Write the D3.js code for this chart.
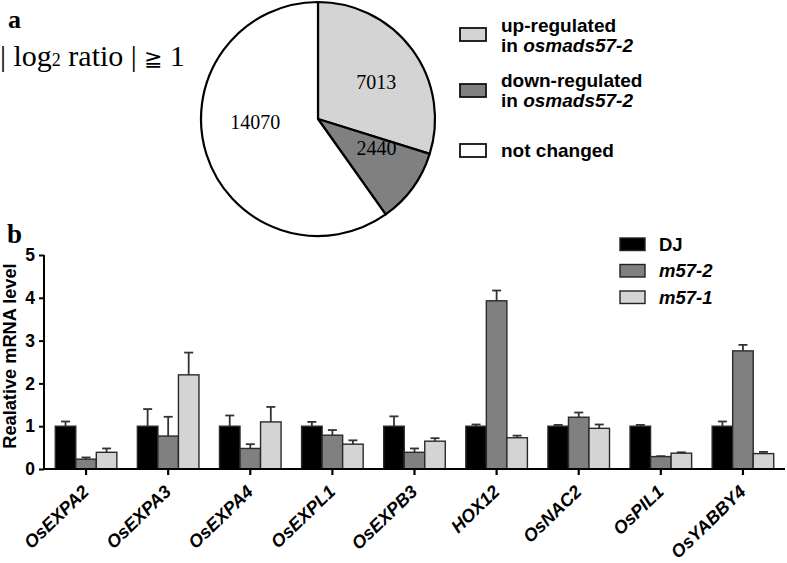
<!DOCTYPE html>
<html><head><meta charset="utf-8">
<script src="https://cdn.jsdelivr.net/npm/d3@7"></script>
<style>body{margin:0;background:#fff}svg{display:block}</style>
</head><body>
<script>
// ---- data ----
const pieLabels = ["up-regulated", "down-regulated", "not changed"];
const pieValues = [7013, 2440, 14070];
const genes = ["OsEXPA2","OsEXPA3","OsEXPA4","OsEXPL1","OsEXPB3","HOX12","OsNAC2","OsPIL1","OsYABBY4"];
const seriesNames = ["DJ","m57-2","m57-1"];
const valDJ   = [1.00, 1.00, 1.00, 1.00, 1.00, 1.00, 1.00, 1.00, 1.00];
const errDJ   = [0.11, 0.40, 0.25, 0.10, 0.23, 0.04, 0.03, 0.03, 0.11];
const valM572 = [0.23, 0.77, 0.48, 0.79, 0.39, 3.93, 1.21, 0.29, 2.76];
const errM572 = [0.04, 0.45, 0.10, 0.12, 0.09, 0.24, 0.11, 0.01, 0.14];
const valM571 = [0.39, 2.20, 1.10, 0.58, 0.65, 0.73, 0.95, 0.37, 0.36];
const errM571 = [0.09, 0.52, 0.35, 0.09, 0.07, 0.05, 0.09, 0.02, 0.04];
const yTicks = [0,1,2,3,4,5];

const W = 787, H = 563;
const svg = d3.select("body").append("svg").attr("width", W).attr("height", H);
const sans = "'Liberation Sans', Arial, Helvetica, sans-serif";
const serif = "'Liberation Serif', 'Times New Roman', serif";
const fills = ["#000000", "#808080", "#d4d4d4"];
const pieFills = ["#d4d4d4", "#808080", "#ffffff"];

// ---- panel a ----
svg.append("text").attr("x", 8).attr("y", 28).attr("font-family", serif)
  .attr("font-weight", "bold").attr("font-size", 26).text("a");
const t = svg.append("text").attr("x", 0).attr("y", 66).attr("font-family", serif).attr("font-size", 30);
t.append("tspan").text("| log");
t.append("tspan").attr("font-size", 18).text("2");
t.append("tspan").text(" ratio | ");
t.append("tspan").attr("font-size", 22).text("≧");
t.append("tspan").text(" 1");

const cx = 318, cy = 119, R = 117;
const pie = d3.pie().sort(null).value(d => d)(pieValues);
const arc = d3.arc().innerRadius(0).outerRadius(R);
const lblArc = d3.arc().innerRadius(66).outerRadius(66);
const gp = svg.append("g").attr("transform", `translate(${cx},${cy})`);
gp.selectAll("path").data(pie).join("path").attr("d", arc)
  .attr("fill", (d, i) => pieFills[i]).attr("stroke", "#000").attr("stroke-width", 2.2)
  .attr("stroke-linejoin", "round");
const nudge = [[5, 2], [5, -10], [0, -17]];
gp.selectAll("text").data(pie).join("text")
  .attr("x", (d, i) => lblArc.centroid(d)[0] + nudge[i][0])
  .attr("y", (d, i) => lblArc.centroid(d)[1] + nudge[i][1])
  .attr("text-anchor", "middle").attr("dy", "0.35em")
  .attr("font-family", serif).attr("font-size", 20).text(d => d.data);

// pie legend
const pl = svg.append("g").attr("font-family", sans).attr("font-weight", "bold").attr("font-size", 19);
const plY = [32, 87, 157];
pieLabels.forEach((lab, i) => {
  const boxY = [28, 84, 144][i];
  pl.append("rect").attr("x", 460).attr("y", boxY).attr("width", 26).attr("height", 13)
    .attr("fill", pieFills[i]).attr("stroke", "#111").attr("stroke-width", 1.8);
  const tx = pl.append("text").attr("x", 501).attr("y", plY[i]);
  tx.append("tspan").text(lab);
  if (i < 2) {
    const t2 = pl.append("text").attr("x", 501).attr("y", plY[i] + 20);
    t2.append("tspan").text("in ");
    t2.append("tspan").attr("font-style", "italic").text("osmads57-2");
  }
});

// ---- panel b ----
svg.append("text").attr("x", 7).attr("y", 243).attr("font-family", serif)
  .attr("font-weight", "bold").attr("font-size", 27).text("b");

const x0 = d3.scaleBand().domain(genes).range([45, 784]).paddingInner(0).paddingOuter(0);
const x1 = d3.scaleBand().domain(seriesNames).range([0, x0.bandwidth() * 0.75]);
const y = d3.scaleLinear().domain([0, 5]).range([469, 255]);
const groupOff = x0.bandwidth() * 0.125;

const series = [
  {name: "DJ", v: valDJ, e: errDJ},
  {name: "m57-2", v: valM572, e: errM572},
  {name: "m57-1", v: valM571, e: errM571}
];

const gb = svg.append("g");
series.forEach((s, si) => {
  genes.forEach((g, gi) => {
    const bx = x0(g) + groupOff + x1(s.name);
    const bw = x1.bandwidth();
    const cxb = bx + bw / 2;
    gb.append("line").attr("x1", cxb).attr("x2", cxb)
      .attr("y1", y(s.v[gi])).attr("y2", y(s.v[gi] + s.e[gi]))
      .attr("stroke", "#333").attr("stroke-width", 1.8);
    gb.append("line").attr("x1", cxb - 4.5).attr("x2", cxb + 4.5)
      .attr("y1", y(s.v[gi] + s.e[gi])).attr("y2", y(s.v[gi] + s.e[gi]))
      .attr("stroke", "#333").attr("stroke-width", 1.8);
    gb.append("rect").attr("x", bx).attr("width", bw)
      .attr("y", y(s.v[gi])).attr("height", y(0) - y(s.v[gi]))
      .attr("fill", fills[si]).attr("stroke", "#2a2a2a").attr("stroke-width", 1.4);
  });
});

// axes
const yAxis = d3.axisLeft(y).tickValues(yTicks).tickSize(5).tickPadding(4).tickFormat(d3.format("d"));
const ga = svg.append("g").attr("transform", "translate(44,0)").call(yAxis);
ga.select(".domain").attr("stroke", "#000").attr("stroke-width", 2).attr("d", "M0,255V469");
ga.selectAll(".tick line").attr("stroke", "#000").attr("stroke-width", 2);
ga.selectAll(".tick text").attr("font-family", sans).attr("font-weight", "bold").attr("font-size", 17.5).attr("fill", "#000");

const xAxis = d3.axisBottom(x0).tickSize(6).tickSizeOuter(0).tickFormat("");
const gx = svg.append("g").attr("transform", "translate(0,469)").call(xAxis);
gx.select(".domain").attr("stroke", "#000").attr("stroke-width", 2).attr("d", "M43,0H785");
gx.selectAll(".tick line").attr("stroke", "#000").attr("stroke-width", 2.2);
gx.selectAll(".tick").append("text")
  .attr("transform", "translate(4,24) rotate(-44)")
  .attr("text-anchor", "end")
  .attr("font-family", sans).attr("font-weight", "bold").attr("font-style", "italic")
  .attr("font-size", 18).attr("fill", "#000").text(d => d);

svg.append("text").attr("transform", `translate(15.5,356) rotate(-90)`)
  .attr("text-anchor", "middle").attr("font-family", sans).attr("font-weight", "bold")
  .attr("font-size", 18.2).text("Realative mRNA level");

// bar legend
const bl = svg.append("g").attr("font-family", sans).attr("font-weight", "bold").attr("font-size", 18.5);
series.forEach((s, i) => {
  const yy = 238 + i * 26.5;
  bl.append("rect").attr("x", 620).attr("y", yy).attr("width", 25).attr("height", 12.5)
    .attr("fill", fills[i]).attr("stroke", "#222").attr("stroke-width", 1.4);
  bl.append("text").attr("x", 659).attr("y", yy + 12.5)
    .attr("font-style", i === 0 ? "normal" : "italic").text(s.name);
});
</script>
</body></html>
